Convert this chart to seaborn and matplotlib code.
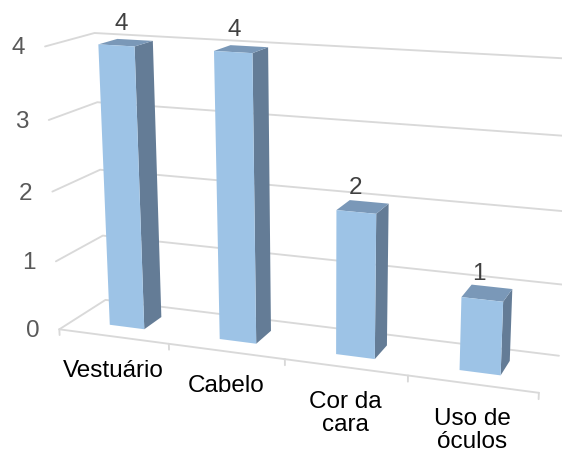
import numpy as np
import matplotlib
matplotlib.use("Agg")
import matplotlib.pyplot as plt
from matplotlib.patches import Polygon
from matplotlib.transforms import Transform, IdentityTransform
import seaborn as sns

# ---- data ----
categories = ["Vestuário", "Cabelo", "Cor da\ncara", "Uso de\nóculos"]
values = [4, 4, 2, 1]
value_ticks = [0, 1, 2, 3, 4]

# ---- style ----
FRONT, SIDE, TOP = "#9DC3E6", "#647C96", "#7A98B8"
GRID = "#D9D9D9"
BAR_W, W_FRONT, W_BACK = 0.32, 0.30, 0.70
W, H = 562, 452
sns.set_theme(style="white")
plt.rcParams["font.family"] = ["Liberation Sans", "DejaVu Sans"]

# ---- oblique camera, calibrated from the frame corners (u, v, depth) -> pixel ----
frame = [
    (-.5, 0, 0, 60, 329), (-.5, 1, 0, 56, 262), (-.5, 2, 0, 52, 193), (-.5, 3, 0, 49, 121), (-.5, 4, 0, 45, 47),
    (-.5, 0, 1, 105, 301), (-.5, 1, 1, 103, 237), (-.5, 2, 1, 100, 171), (-.5, 3, 1, 98, 103), (-.5, 4, 1, 94, 34),
    (3.5, 0, 0, 539, 392), (3.5, 0, 1, 559, 357), (3.5, 1, 1, 562, 284), (3.5, 2, 1, 566, 212),
    (3.5, 3, 1, 569, 138), (3.5, 4, 1, 572, 60),
    (.5, 0, 0, 169, 344), (1.5, 0, 0, 284, 363), (2.5, 0, 0, 408, 378),
]
A, b = [], []
for u, v, d, px, py in frame:
    A.append([u, v, d, 1, 0, 0, 0, 0, -px*u, -px*v, -px*d]); b.append(px)
    A.append([0, 0, 0, 0, u, v, d, 1, -py*u, -py*v, -py*d]); b.append(py)
p = np.linalg.lstsq(np.array(A, float), np.array(b, float), rcond=None)[0]
P = np.append(p, 1.0).reshape(3, 4)


def project(u, v, d):
    u, v, d = np.broadcast_arrays(np.asarray(u, float), np.asarray(v, float), np.asarray(d, float))
    q = P @ np.vstack([u.ravel(), v.ravel(), d.ravel(), np.ones(u.size)])
    return np.column_stack([q[0]/q[2], H - q[1]/q[2]])


class Plane(Transform):
    """Maps (category, value) on the plane at a given depth to display pixels."""
    input_dims = output_dims = 2
    is_affine = False

    def __init__(self, plane_depth):
        super().__init__()
        self.plane_depth = plane_depth

    def transform_non_affine(self, values):
        values = np.asarray(values, float)
        return project(values[:, 0], values[:, 1], self.plane_depth)


fig = plt.figure(figsize=(W/100, H/100), dpi=100, facecolor="white")
ax = fig.add_axes([0, 0, 1, 1])
sns.barplot(x=list(range(len(values))), y=values, width=BAR_W, color=FRONT, saturation=1,
            ax=ax, native_scale=True, zorder=4, linewidth=0)
ident = IdentityTransform()


def line(us, vs, ds, **kw):
    xy = project(us, vs, ds)
    ax.plot(xy[:, 0], xy[:, 1], transform=ident, color=GRID, lw=1.35, zorder=1, clip_on=False, **kw)


u0, u1 = -0.5, len(values) - 0.5
for v in value_ticks:
    line([u1, u0, u0], [v, v, v], [1, 1, 0])
line([u0, u1], [0, 0], [0, 0])
for t in np.arange(u0, u1 + .1):
    line([t, t], [0, -0.085], [0, 0])

for bar in ax.patches:
    bar.set_transform(Plane(W_FRONT))
    bar.set_clip_on(False)

for i, val in enumerate(values):
    l, r = i - BAR_W/2, i + BAR_W/2
    side = project([r, r, r, r], [0, val, val, 0], [W_FRONT, W_FRONT, W_BACK, W_BACK])
    top = project([l, r, r, l], [val, val, val, val], [W_FRONT, W_FRONT, W_BACK, W_BACK])
    ax.add_patch(Polygon(side, closed=True, fc=SIDE, ec="none", transform=ident, zorder=3, clip_on=False))
    ax.add_patch(Polygon(top, closed=True, fc=TOP, ec="none", transform=ident, zorder=3, clip_on=False))

FS = 17.5
label_dx = [-5, -7, -7, -8]
for i, val in enumerate(values):
    x, y = project(i, val, 0.5)[0]
    ax.text(x + label_dx[i], y + 20, str(val), transform=ident, ha="center", va="center",
            fontsize=FS, color="#404040", zorder=6)
for v in value_ticks:
    x, y = project(u0, v, 0)[0]
    ax.text(x - 27, y - 1, str(v), transform=ident, ha="center", va="center",
            fontsize=FS, color="#595959", zorder=6)
for i, cat in enumerate(categories):
    x, y = project(i, 0, 0)[0]
    ax.text(x, y - 23, cat, transform=ident, ha="center", va="top", linespacing=1.05,
            fontsize=FS, color="black", zorder=6)

ax.set_xlim(u0, u1)
ax.set_ylim(0, 5)
ax.axis("off")
fig.savefig("out.png", dpi=100, facecolor="white")
